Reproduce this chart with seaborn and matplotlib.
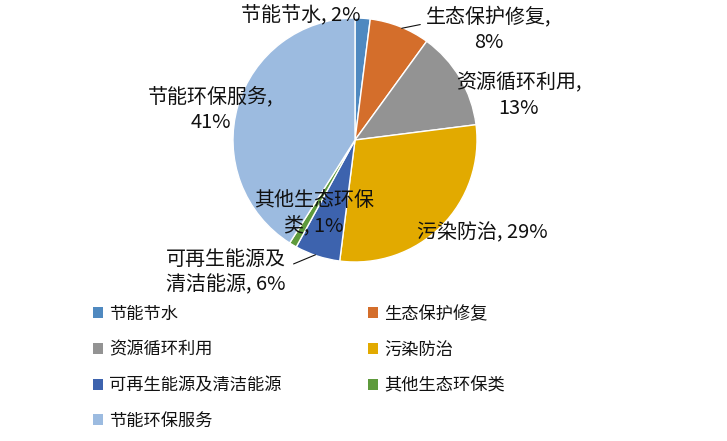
import matplotlib
matplotlib.use("Agg")
from matplotlib import pyplot as plt
from matplotlib.patches import Patch
import seaborn as sns
import numpy as np

# data
categories = ["节能节水", "生态保护修复", "资源循环利用", "污染防治",
              "可再生能源及清洁能源", "其他生态环保类", "节能环保服务"]
shares = [2, 8, 13, 29, 6, 1, 41]
slice_labels = ["节能节水, 2%", "生态保护修复,\n8%", "资源循环利用,\n13%",
                "污染防治, 29%", "可再生能源及\n清洁能源, 6%",
                "其他生态环保\n类, 1%", "节能环保服务,\n41%"]
colors = ["#4F89C0", "#D46E2B", "#939393", "#E2AA00",
          "#3D63AE", "#5E9A3C", "#9CBBE0"]

W, H = 727, 441
# label centers in pixels
label_pos = [(301, 16), (489, 30), (519, 96), (482, 233),
             (226, 272), (314, 213), (211, 110)]
leader = {1: (423, 24), 4: (291, 265)}

sns.set_theme(style="white")
plt.rcParams["font.family"] = ["Noto Sans CJK SC", "DejaVu Sans"]


def px(x, y):
    return x / W, 1 - y / H


fig = plt.figure(figsize=(W / 100, H / 100), dpi=100)
cx, cy, r = 355, 140, 122
ax = fig.add_axes([(cx - r) / W, 1 - (cy + r) / H, 2 * r / W, 2 * r / H])
wedges, _ = ax.pie(shares, colors=colors, startangle=90, counterclock=False,
                   radius=1, wedgeprops=dict(edgecolor="white", linewidth=1))
ax.set_xlim(-1, 1)
ax.set_ylim(-1, 1)
ax.set_aspect("equal")
ax.axis("off")

for i, lab in enumerate(slice_labels):
    x, y = px(*label_pos[i])
    fig.text(x, y, lab, ha="center", va="center", multialignment="center",
             fontsize=14.4, color="#111111", linespacing=1.3)

for i, (tx, ty) in leader.items():
    w = wedges[i]
    ang = np.deg2rad((w.theta1 + w.theta2) / 2)
    ax.annotate("", xy=(0.98 * np.cos(ang), 0.98 * np.sin(ang)),
                xytext=px(tx, ty), textcoords="figure fraction",
                arrowprops=dict(arrowstyle="-", color="#111111", lw=0.8))

handles = [Patch(facecolor=c, edgecolor="none") for c in colors]
order = [0, 2, 4, 6, 1, 3, 5]
fig.legend([handles[i] for i in order], [categories[i] for i in order],
           ncol=2, loc="upper left", bbox_to_anchor=px(93, 305),
           frameon=False, fontsize=12.4, handlelength=0.6, handleheight=0.6,
           handletextpad=0.35, labelspacing=1.02, columnspacing=5.0,
           borderpad=0, borderaxespad=0, labelcolor="#111111")

fig.savefig("out.png", dpi=100)
